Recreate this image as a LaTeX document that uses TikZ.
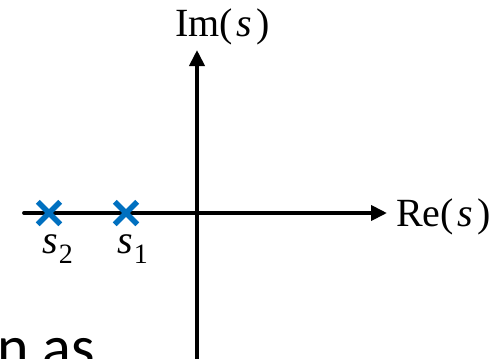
\documentclass[tikz,border=0pt]{standalone}
\usepackage{fontspec}
\setmainfont{Liberation Serif}
\newfontfamily\slidefont{Carlito}
\usetikzlibrary{arrows.meta,shapes.misc}
\definecolor{poleblue}{RGB}{0,112,192}
\begin{document}
\begin{tikzpicture}[x=1bp,y=-1bp,
  axis/.style={line width=3.8bp,-{Triangle[length=16bp,width=15bp]}},
  pole/.style={cross out,draw=poleblue,line width=5.5bp,minimum size=17bp,inner sep=0pt},
  lbl/.style={inner sep=0pt,font=\fontsize{40bp}{44bp}\selectfont}
]
\useasboundingbox (0,0) rectangle (499,358);
\clip (0,0) rectangle (499,358);
% axes
\coordinate (hs) at (24,213);
\coordinate (he) at (387,213);
\coordinate (vs) at (197,362);
\coordinate (ve) at (197,50);
\draw[axis,line cap=round] (hs) -- (he);
\draw[axis] (vs) -- (ve);
% axis labels
\node[lbl,anchor=base west] (im) at (175,36) {Im(\kern4bp\textit{s}\kern4bp)};
\node[lbl,anchor=base west] (re) at (396,226) {Re(\kern4bp\textit{s}\kern4bp)};
% poles
\node[pole] (p2) at (49,213) {};
\node[pole] (p1) at (126,213) {};
\node[lbl,anchor=base west] (l2) at (42,253) {\textit{s}\kern1bp\raisebox{-10bp}{\fontsize{28bp}{30bp}\selectfont 2}};
\node[lbl,anchor=base west] (l1) at (117,253) {\textit{s}\kern1bp\raisebox{-10bp}{\fontsize{28bp}{30bp}\selectfont 1}};
% cut-off slide text
\node[anchor=base west,inner sep=0pt,font=\slidefont\fontsize{60bp}{66bp}\selectfont] (txt) at (-3,367) {n as};
\end{tikzpicture}
\end{document}
